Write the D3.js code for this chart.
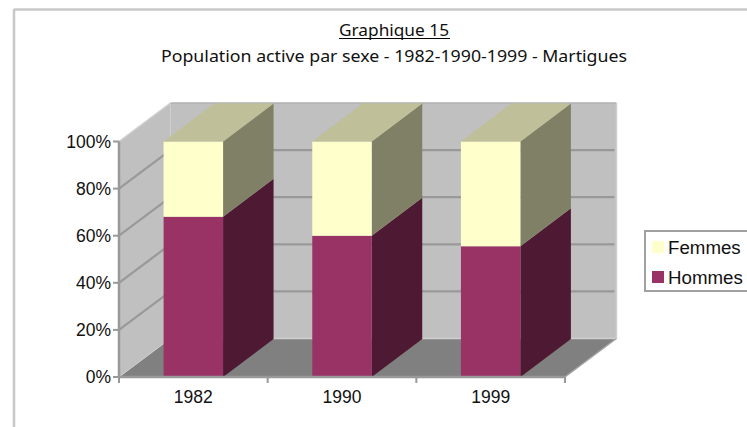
<!DOCTYPE html>
<html><head><meta charset="utf-8">
<script src="https://cdn.jsdelivr.net/npm/d3@7"></script>
<style>html,body{margin:0;padding:0;background:#fff;overflow:hidden}svg{display:block}</style>
</head><body><svg id="c" width="747" height="427"></svg>
<script>
const categories = ["1982","1990","1999"];
const hommes = [68,60,55.5];
const femmes = [32,40,44.5];
const seriesNames = ["Hommes","Femmes"];
const legendNames = ["Femmes","Hommes"];
const yTicks = [0,20,40,60,80,100];
const titleLine = "Graphique 15";
const subtitleLine = "Population active par sexe - 1982-1990-1999 - Martigues";

const svg = d3.select("#c");
const dx = 51.5, dy = -38.5, barDx = 50.5, barDy = -38;
const y = d3.scaleLinear().domain([0,100]).range([377,141.5]);
const x = d3.scaleBand().domain(categories).range([119,565]).paddingInner(0.6).paddingOuter(0.3);
const poly = (pts,fill) => svg.append("polygon").attr("points",pts.map(p=>p.join(",")).join(" ")).attr("fill",fill);
const line = (x1,y1,x2,y2,c,w) => svg.append("line").attr("x1",x1).attr("y1",y1).attr("x2",x2).attr("y2",y2).attr("stroke",c).attr("stroke-width",w);

// frame
line(14,9.5,747,9.5,"#c8c8c8",2.5);
line(14,9,14,427,"#c8c8c8",2.5);

// walls
const [x0,x1] = x.range(), y0 = y(0), yT = y(100);
poly([[x0,y0],[x0+dx,y0+dy],[x0+dx,yT+dy],[x0,yT]],"#c0c0c0");
poly([[x0+dx,y0+dy],[x1+dx,y0+dy],[x1+dx,yT+dy],[x0+dx,yT+dy]],"#c0c0c0");
poly([[x0,y0],[x1,y0],[x1+dx,y0+dy],[x0+dx,y0+dy]],"#808080");
line(x0,yT,x0+dx,yT+dy,"#cfcfcf",1.5);
line(x0+dx,yT+dy,x1+dx,yT+dy,"#b0b0b0",1.5);
line(x1+dx,yT+dy,x1+dx,y0+dy,"#d0d0d0",1.5);
line(x0+dx,y0+dy,x1+dx,y0+dy,"#cfcfcf",1.5);
line(x0,y0,x0+dx,y0+dy,"#cfcfcf",1);
line(x1,y0,x1+dx,y0+dy,"#a8a8a8",1.5);

// gridlines
yTicks.filter(t=>t>0&&t<100).forEach(t=>{
  line(x0,y(t),x0+dx,y(t)+dy,"#999",2.2);
  line(x0+dx,y(t)+dy,x1+dx-2,y(t)+dy,"#999",2.2);
});

// bars
const colors = {Hommes:["#993366","#4d1933"],Femmes:["#ffffcc","#808066"]};
const topFill = "#bfbf99";
const rows = categories.map((c,i)=>({c,Hommes:hommes[i],Femmes:femmes[i]}));
const stacked = d3.stack().keys(seriesNames)(rows);
const w = x.bandwidth();
stacked.forEach(s=>{
  const [front,side] = colors[s.key];
  s.forEach(d=>{
    const l = x(d.data.c), r = l+w, a = y(d[0]), b = y(d[1]);
    poly([[r,a],[r+barDx,a+barDy],[r+barDx,b+barDy],[r,b]],side);
    poly([[l,a],[r,a],[r,b],[l,b]],front);
    if(d[1]>=100) poly([[l,b],[r,b],[r+barDx,b+barDy],[l+barDx,b+barDy]],topFill);
  });
});

// axes
const axisFont = "'Liberation Sans',Arial,sans-serif";
const ax = svg.append("g").attr("font-family",axisFont).attr("font-size",17.5).attr("fill","#111");
line(x0,yT,x0,y0+1,"#999",2.5);
line(x0-1,y0,x1,y0,"#999",2.5);
yTicks.forEach(t=>{
  line(x0-6,y(t),x0,y(t),"#999",2);
  ax.append("text").attr("x",x0-8).attr("y",y(t)+6).attr("text-anchor","end").text(t+"%");
});
const step = (x1-x0)/categories.length;
d3.range(categories.length+1).forEach(i=>line(x0+i*step,y0,x0+i*step,y0+6,"#999",2));
categories.forEach(c=>{
  ax.append("text").attr("x",x(c)+w/2).attr("y",403).attr("text-anchor","middle").text(c);
});

// titles
const tf = "'Noto Sans',sans-serif";
svg.append("text").attr("x",394).attr("y",36).attr("text-anchor","middle").attr("font-family",tf).attr("font-size",16.5).attr("fill","#111").attr("textLength",110).attr("lengthAdjust","spacingAndGlyphs").text(titleLine);
line(339,38.5,450,38.5,"#000",1.2);
svg.append("text").attr("x",394).attr("y",62).attr("text-anchor","middle").attr("font-family",tf).attr("font-size",16.5).attr("fill","#111").attr("textLength",466).attr("lengthAdjust","spacingAndGlyphs").text(subtitleLine);

// legend
svg.append("rect").attr("x",645).attr("y",231).attr("width",110).attr("height",60).attr("fill","#fff").attr("stroke","#a0a0a0").attr("stroke-width",2);
legendNames.forEach((n,i)=>{
  const ly = 247+i*30;
  svg.append("rect").attr("x",652).attr("y",ly-6).attr("width",12).attr("height",12).attr("fill",colors[n][0]);
  svg.append("text").attr("x",668).attr("y",ly+6.5).attr("font-family",axisFont).attr("font-size",18.7).attr("fill","#111").text(n);
});
</script></body></html>
